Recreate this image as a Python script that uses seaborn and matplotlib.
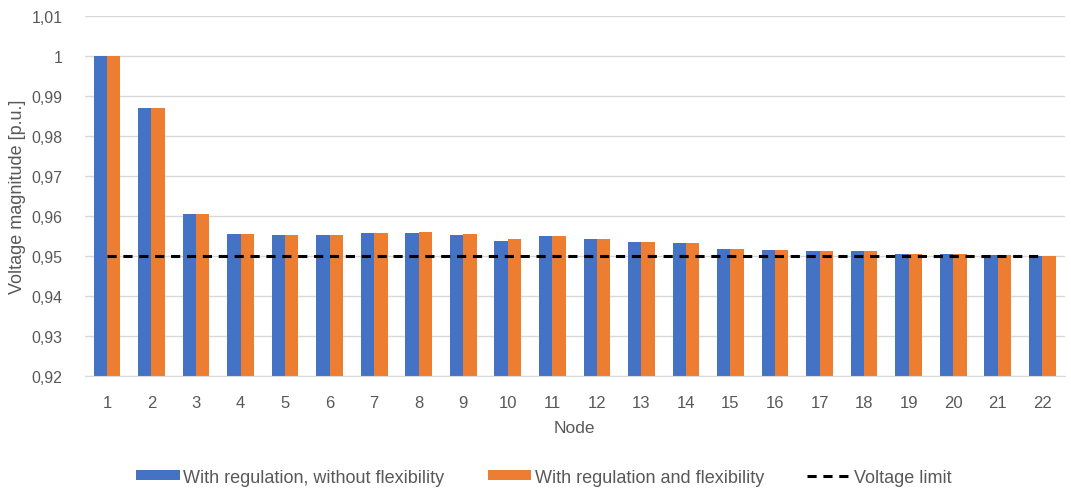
import numpy as np
import pandas as pd
import seaborn as sns
import matplotlib.pyplot as plt
from matplotlib.ticker import FuncFormatter, MultipleLocator

nodes = [str(i) for i in range(1, 23)]
without_flex = [1.0000, 0.9870, 0.9606, 0.9555, 0.9553, 0.9553, 0.9558, 0.9558,
                0.9553, 0.9537, 0.9550, 0.9542, 0.9534, 0.9532, 0.9518, 0.9515,
                0.9513, 0.9513, 0.9504, 0.9504, 0.9502, 0.9499]
with_flex = [1.0000, 0.9870, 0.9606, 0.9555, 0.9553, 0.9553, 0.9558, 0.9559,
             0.9556, 0.9542, 0.9550, 0.9542, 0.9534, 0.9532, 0.9518, 0.9515,
             0.9513, 0.9513, 0.9504, 0.9504, 0.9502, 0.9499]
voltage_limit = [0.95] * len(nodes)

series_names = ["With regulation, without flexibility", "With regulation and flexibility"]
colors = ["#4472C4", "#ED7D31"]

df = pd.DataFrame({
    "Node": nodes * 2,
    "Voltage": without_flex + with_flex,
    "Series": [series_names[0]] * len(nodes) + [series_names[1]] * len(nodes),
})

sns.set_style("white")
plt.rcParams['font.family'] = ['Liberation Sans', 'DejaVu Sans']

fig = plt.figure(figsize=(10.71, 4.89), dpi=100)
ax = fig.add_axes([0.079, 0.229, 0.915, 0.736])

sns.barplot(data=df, x="Node", y="Voltage", hue="Series", palette=colors,
            saturation=1, width=0.6, gap=0, linewidth=0, ax=ax, legend=True)
ax.plot(range(len(nodes)), voltage_limit, color="black", linestyle=(0, (3, 2.2)),
        linewidth=2.2, label="Voltage limit", zorder=5)

ax.set_ylim(0.92, 1.01)
ax.set_xlim(-0.5, len(nodes) - 0.5)
ax.yaxis.set_major_locator(MultipleLocator(0.01))
ax.yaxis.set_major_formatter(FuncFormatter(
    lambda v, p: f"{v:.2f}".rstrip("0").rstrip(".").replace(".", ",")))
ax.grid(axis="y", color="#D9D9D9", linewidth=1)
ax.set_axisbelow(True)
for s in ["top", "right", "left"]:
    ax.spines[s].set_visible(False)
ax.spines["bottom"].set_color("#D9D9D9")
ax.tick_params(axis="y", length=0, labelsize=11.5, colors="#595959", pad=16)
ax.tick_params(axis="x", length=0, labelsize=12, colors="#595959", pad=14)

ax.set_xlabel("Node", fontsize=12.5, color="#595959", labelpad=7)
ax.set_ylabel("Voltage magnitude [p.u.]", fontsize=13, color="#595959", labelpad=4)

handles, labels = ax.get_legend_handles_labels()
ax.get_legend().remove()
fig.legend(handles, labels, loc="center", bbox_to_anchor=(0.508, 0.022),
           ncol=3, frameon=False, fontsize=13, handlelength=2.4, handleheight=0.5,
           columnspacing=2.4, handletextpad=0.2, labelcolor="#595959")

fig.savefig("out.png", dpi=100)
